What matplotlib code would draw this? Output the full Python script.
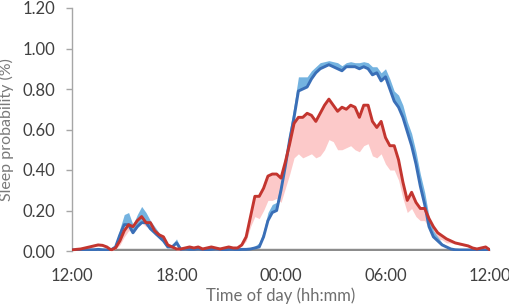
import numpy as np
import matplotlib
matplotlib.use("Agg")
import matplotlib.pyplot as plt

# time grid: hours after 12:00, every 15 min
hours = np.arange(0, 24.25, 0.25)

blue_mean = [.005, .005, .005, .006, .006, .006, .008, .006, .005, .006,
             .02, .08, .13, .13, .09, .12, .14, .14, .11, .09, .07, .05, .02, .02, .04, .008,
             .01, .008, .008, .01, .008, .006, .008, .01, .008, .006, .008, .008, .006, .008, .008, .01,
             .015, .02, .07, .15, .19, .20, .30, .42, .55, .66, .79, .80, .81, .85, .88, .90,
             .91, .92, .91, .90, .89, .91, .91, .91, .90, .91, .90, .87, .88, .84, .86, .80,
             .74, .71, .66, .59, .52, .43, .32, .23, .12, .07, .05, .03, .02, .01, .006,
             .005, .005, .005, .005, .005, .005, .005, .005]

red_mean = [.005, .008, .01, .015, .02, .025, .03, .028, .02, .005,
            .015, .05, .10, .13, .12, .15, .17, .14, .14, .10, .08, .07, .03, .02, .01, .01,
            .015, .02, .015, .02, .01, .015, .02, .015, .01, .015, .02, .015,
            .015, .03, .07, .17, .27, .27, .31, .37, .38, .38, .36, .44, .53, .63,
            .66, .66, .68, .67, .64, .68, .72, .75, .72, .69, .71, .70, .72, .71, .66, .72,
            .72, .64, .61, .64, .56, .52, .52, .45, .34, .25, .29, .24, .21, .21, .16, .12,
            .09, .075, .06, .05, .04, .035, .03, .025, .015, .01, .015, .02, .005]

blue_err = [.005] * 11 + [.03, .05, .06, .04, .06, .08, .05, .04, .03, .02, .02, .01, .01, .02, .005] + \
           [.005] * 16 + \
           [.01, .02, .03, .04, .04, .04, .04, .04, .05, .06, .07, .06, .05, .04, .03, .03,
            .025, .02, .025, .03, .025, .02, .025, .02, .03, .025, .03, .04, .03, .04, .04, .05,
            .05, .06, .06, .05, .06, .06, .06, .06, .05, .03, .02, .01] + [.005] * 11

red_err = [.005] * 11 + [.02, .03, .03, .02, .03, .03, .02, .02, .02, .01, .01, .005, .005, .005, .005] + \
          [.005] * 14 + \
          [.02, .05, .10, .11, .11, .12, .13, .12, .12, .13, .15, .17, .18, .20, .21, .19,
           .18, .21, .22, .20, .18, .19, .21, .19, .20, .21, .17, .20, .19, .17, .15, .16,
           .13, .12, .12, .10, .08, .06, .08, .07, .06, .06, .05, .04, .03, .02, .02, .01] + [.005] * 9

tick_hours = [0, 6, 12, 18, 24]
tick_labels = ["12:00", "18:00", "00:00", "06:00", "12:00"]
y_ticks = [0.0, 0.2, 0.4, 0.6, 0.8, 1.0, 1.2]

plt.rcParams['font.family'] = ['Lato', 'DejaVu Sans']

b = np.array(blue_mean)
r = np.array(red_mean)
eb = np.array(blue_err)
er = np.array(red_err)

fig = plt.figure(figsize=(5.10, 3.07), dpi=100)
ax = fig.add_axes([72/510, 1 - 251/307, 418/510, 243/307])

ax.axhline(0, color="#8c8c8c", lw=3.2, zorder=1, solid_capstyle="butt")
ax.fill_between(hours, np.clip(r - er, 0, None), r, color="#fcc9c9", lw=0, zorder=2)
ax.fill_between(hours, b, b + eb, color="#74b3e0", lw=0, zorder=3)
ax.plot(hours, b, color="#3a6fb7", lw=2.1, zorder=4, solid_joinstyle="round")
ax.plot(hours, r, color="#c3352f", lw=2.1, zorder=5, solid_joinstyle="round")

ax.set_xlim(0, 24)
ax.set_ylim(0, 1.2)
ax.set_xticks(tick_hours)
ax.set_xticklabels(tick_labels)
ax.set_yticks(y_ticks)
ax.set_yticklabels([f"{v:.2f}" for v in y_ticks])

for s in ["top", "right", "bottom"]:
    ax.spines[s].set_visible(False)
ax.spines["left"].set_color("#a6a6a6")
ax.spines["left"].set_linewidth(1.0)

ax.tick_params(axis="y", direction="out", length=4, width=1, color="#a6a6a6",
               labelsize=12, labelcolor="#404040", pad=8)
ax.tick_params(axis="x", length=0, labelsize=12, labelcolor="#404040", pad=12)

ax.set_xlabel("Time of day (hh:mm)", fontsize=12, color="#6e6e6e", labelpad=3)
ax.set_ylabel("Sleep probability (%)", fontsize=11.5, color="#7a7a7a", labelpad=6)

fig.savefig("out.png", dpi=100)
